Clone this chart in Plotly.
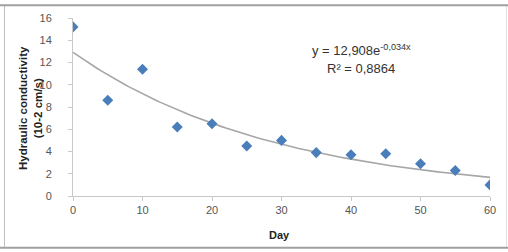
import plotly.graph_objects as go
import numpy as np

days = [0, 5, 10, 15, 20, 25, 30, 35, 40, 45, 50, 55, 60]
conductivity = [15.2, 8.6, 11.4, 6.2, 6.5, 4.5, 5.0, 3.9, 3.7, 3.8, 2.9, 2.3, 1.0]
fit_a = 12.908
fit_b = -0.034
x_ticks = [0, 10, 20, 30, 40, 50, 60]
y_ticks = [0, 2, 4, 6, 8, 10, 12, 14, 16]

W, H = 508, 252
L, R, T, B = 73, 490, 14, 196

trend_x = np.linspace(0, 60, 121)
trend_y = fit_a * np.exp(fit_b * trend_x)

fig = go.Figure()
fig.add_trace(go.Scatter(x=trend_x, y=trend_y, mode="lines",
                         line=dict(color="#A6A6A6", width=1.6), hoverinfo="skip"))
fig.add_trace(go.Scatter(x=days, y=conductivity, mode="markers",
                         marker=dict(symbol="diamond", size=8.5, color="#4A7EBB")))

def px(xp):
    return (xp - L) / (R - L)

def py(yp):
    return (B - yp) / (B - T)

fig.update_layout(
    width=W, height=H,
    margin=dict(l=L, r=W - R, t=T, b=H - B),
    paper_bgcolor="white", plot_bgcolor="white",
    showlegend=False,
    font=dict(family="Liberation Sans, Arial", size=10, color="#555555"),
    xaxis=dict(range=[0, 60], tickvals=x_ticks, showgrid=False, zeroline=False,
               showline=True, linecolor="#C8C8C8", linewidth=1,
               ticks="outside", ticklen=4, tickcolor="#C8C8C8", ticklabelstandoff=0,
               tickfont=dict(size=11, color="#555555")),
    yaxis=dict(range=[0, 16], tickvals=y_ticks, showgrid=False, zeroline=False,
               showline=True, linecolor="#C8C8C8", linewidth=1,
               ticks="outside", ticklen=4, tickcolor="#C8C8C8", ticklabelstandoff=14,
               tickfont=dict(size=11, color="#555555")),
    shapes=[
        dict(type="line", xref="paper", yref="paper", x0=px(4.5), x1=px(4.5), y0=py(1), y1=py(249),
             line=dict(color="#C0C0C0", width=1)),
        dict(type="line", xref="paper", yref="paper", x0=px(506.5), x1=px(506.5), y0=py(1), y1=py(249),
             line=dict(color="#E0E0E0", width=1)),
        dict(type="line", xref="paper", yref="paper", x0=px(0), x1=px(508), y0=py(1), y1=py(1),
             line=dict(color="#A0A0A0", width=2)),
        dict(type="line", xref="paper", yref="paper", x0=px(0), x1=px(508), y0=py(249), y1=py(249),
             line=dict(color="#A0A0A0", width=2)),
    ],
    annotations=[
        dict(xref="paper", yref="paper", x=px(31), y=py(106), textangle=-90,
             xanchor="center", yanchor="middle",
             text="<b>Hydraulic conductivity<br>(10-2 cm/s)</b>", showarrow=False,
             font=dict(size=11.5, color="#222222")),
        dict(xref="paper", yref="paper", x=px(279), y=py(236),
             xanchor="center", yanchor="middle",
             text="<b>Day</b>", showarrow=False, font=dict(size=11, color="#222222")),
        dict(xref="paper", yref="paper", x=px(361), y=py(47),
             xanchor="center", yanchor="middle",
             text="y = 12,908e<sup>-0,034x</sup>", showarrow=False,
             font=dict(size=13, color="#333333")),
        dict(xref="paper", yref="paper", x=px(361), y=py(66),
             xanchor="center", yanchor="middle",
             text="R² = 0,8864", showarrow=False,
             font=dict(size=13, color="#333333")),
    ],
)

fig.write_html("out.html")
